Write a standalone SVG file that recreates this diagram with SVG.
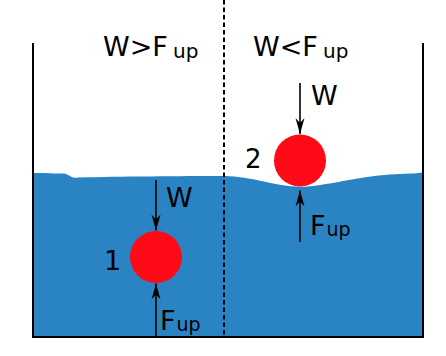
<svg xmlns="http://www.w3.org/2000/svg" width="446" height="356" viewBox="0 0 446 356">
<defs>
<style>
text{font-family:"DejaVu Sans","Liberation Sans",sans-serif;fill:#000}
.t{font-size:27px}.ts{font-size:20px}
.l{font-size:27px}.ls{font-size:19px}
.wall{stroke:#000;stroke-width:2;fill:none}
.arr{stroke:#000;stroke-width:1.6;fill:none;marker-end:url(#ah)}
</style>
<marker id="ah" markerUnits="userSpaceOnUse" markerWidth="20" markerHeight="12" viewBox="-16 -6 18 12" refX="0" refY="0" orient="auto">
<path d="M0,0 L-16,-4.5 L-11,0 L-16,4.5 Z" fill="#000"/>
</marker>
</defs>
<rect width="446" height="356" fill="#fff"/>
<g id="water">
<path d="M34,173 C45,172.5 55,174 62,173.5 C66,173 68,175 70,176 C72,177.5 74,178 78,177.5 C120,176.5 180,176 225,176 C250,176 275,186.5 300,186.8 C325,186.5 360,176 390,174.5 C405,173.8 415,173.5 423,172.5 L423,337 L34,337 Z" fill="#2a83c3"/>
</g>
<g id="container">
<path class="wall" d="M33,43 V337 H423 V43"/>
<line x1="224" y1="0" x2="224" y2="337" stroke="#000" stroke-width="2" stroke-dasharray="4.5,3"/>
</g>
<g id="titles">
<text class="t" x="103" y="56">W&gt;F</text><text class="ts" x="173" y="58">up</text>
<text class="t" x="253" y="56">W&lt;F</text><text class="ts" x="323" y="58">up</text>
</g>
<g id="ball1">
<circle cx="156" cy="257" r="26" fill="#ff0a16"/>
<text class="l" x="104" y="270" font-size="28">1</text>
</g>
<g id="ball2">
<circle cx="300" cy="160.5" r="26" fill="#ff0a16"/>
<text x="245" y="168" font-size="26">2</text>
</g>
<g id="connectors">
<line class="arr" x1="156" y1="180" x2="156" y2="230.5"/>
<line class="arr" x1="156" y1="336" x2="156" y2="283.5"/>
<line class="arr" x1="300" y1="83" x2="300" y2="134"/>
<line class="arr" x1="300" y1="242" x2="300" y2="190.5"/>
</g>
<g id="labels">
<text class="l" x="166" y="207">W</text>
<text class="l" x="160" y="330" font-size="28">F</text><text class="ls" x="176.5" y="331">up</text>
<text class="l" x="311" y="105">W</text>
<text class="l" x="310" y="235" font-size="28">F</text><text class="ls" x="326.5" y="236">up</text>
</g>
</svg>
